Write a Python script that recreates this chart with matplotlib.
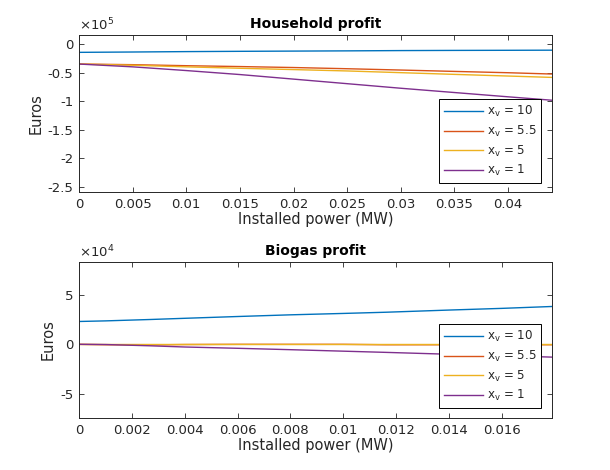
import numpy as np
import matplotlib
matplotlib.use('Agg')
import matplotlib.pyplot as plt
from matplotlib.ticker import FuncFormatter

plt.rcParams['font.family'] = ['DejaVu Sans']
plt.rcParams['axes.unicode_minus'] = False

# series colours (matlab default order)
colors = ['#0072BD', '#D95319', '#EDB120', '#7E2F8E']
labels = [r'x$_\mathrm{v}$ = 10', r'x$_\mathrm{v}$ = 5.5', r'x$_\mathrm{v}$ = 5', r'x$_\mathrm{v}$ = 1']

'''Household profit data (Euros)'''
x_house = [0, 0.005, 0.01, 0.015, 0.02, 0.025, 0.03, 0.035, 0.04, 0.0441]
house_10 = [-14600, -14000, -13300, -12800, -12400, -12000, -11500, -11200, -11000, -10800]
house_55 = [-35100, -36200, -38000, -39500, -41200, -43300, -45600, -48000, -50300, -52600]
house_5 = [-35100, -37200, -40000, -42500, -44800, -47200, -50200, -53200, -56100, -58500]
house_1 = [-35100, -40000, -46500, -53500, -61500, -69500, -77500, -85000, -92500, -98500]

'''Biogas profit data (Euros)'''
x_bio = [0, 0.001, 0.0027, 0.004, 0.006, 0.008, 0.01, 0.0116, 0.014, 0.016, 0.0179]
bio_10 = [23000, 23600, 25000, 26200, 28000, 29700, 31100, 32300, 34500, 36200, 38100]
bio_55 = [0, -400, -600, -200, 0, 0, 0, -450, -450, -450, -450]
bio_5 = [0, 0, 0, 0, 0, 0, 0, 0, 0, 0, 0]
bio_1 = [0, -200, -1500, -2700, -4000, -5400, -6900, -8100, -10000, -11300, -12900]

W, H = 610, 470
fig = plt.figure(figsize=(W / 100, H / 100), dpi=100)
txt = '#262626'


def style_axes(ax, xticks, yticks, scale, exp):
	ax.set_xticks(xticks)
	ax.set_yticks(yticks)
	ax.xaxis.set_major_formatter(FuncFormatter(lambda v, p: '%g' % round(v, 6)))
	ax.yaxis.set_major_formatter(FuncFormatter(lambda v, p: '%g' % round(v / scale, 6)))
	ax.tick_params(direction='in', top=True, right=True, length=3.5, width=0.6,
		labelsize=9.5, colors=txt, pad=4)
	for s in ax.spines.values():
		s.set_linewidth(0.7)
		s.set_color(txt)
	ax.text(0, 1.01, r'$\times$10$^{%d}$' % exp, transform=ax.transAxes,
		fontsize=9.5, color=txt, ha='left', va='bottom')
	ax.set_xlabel('Installed power (MW)', fontsize=10.5, color=txt, labelpad=1)
	ax.set_ylabel('Euros', fontsize=10.5, color=txt, labelpad=3)


def add_legend(ax, anchor):
	leg = ax.legend(loc='lower right', bbox_to_anchor=anchor, borderaxespad=0,
		fontsize=8.6, fancybox=False, framealpha=1, edgecolor='black',
		handlelength=3.3, handletextpad=0.3, labelspacing=0.38,
		borderpad=0.4)
	leg.get_frame().set_linewidth(0.7)
	for t in leg.get_texts():
		t.set_color(txt)


'''Top panel'''
ax1 = fig.add_axes([79 / W, 1 - 192 / H, 473 / W, 157 / H])
for ys, c, lab in zip([house_10, house_55, house_5, house_1], colors, labels):
	ax1.plot(x_house, ys, color=c, lw=1.0, label=lab)
ax1.set_xlim(0, 0.0441)
ax1.set_ylim(-2.593e5, 0.158e5)
style_axes(ax1, np.arange(0, 0.0401, 0.005), np.arange(-2.5e5, 0.1, 0.5e5), 1e5, 5)
ax1.set_title('Household profit', fontsize=10, fontweight='bold', pad=5)
add_legend(ax1, (0.977, 0.057))

'''Bottom panel'''
ax2 = fig.add_axes([79 / W, 1 - 418 / H, 473 / W, 156 / H])
for ys, c, lab in zip([bio_10, bio_55, bio_5, bio_1], colors, labels):
	ax2.plot(x_bio, ys, color=c, lw=1.0, label=lab)
ax2.set_xlim(0, 0.0179)
ax2.set_ylim(-7.42e4, 8.29e4)
style_axes(ax2, np.arange(0, 0.0161, 0.002), [-5e4, 0, 5e4], 1e4, 4)
ax2.set_title('Biogas profit', fontsize=10, fontweight='bold', pad=5)
add_legend(ax2, (0.977, 0.064))

fig.savefig('out.png', dpi=100)
